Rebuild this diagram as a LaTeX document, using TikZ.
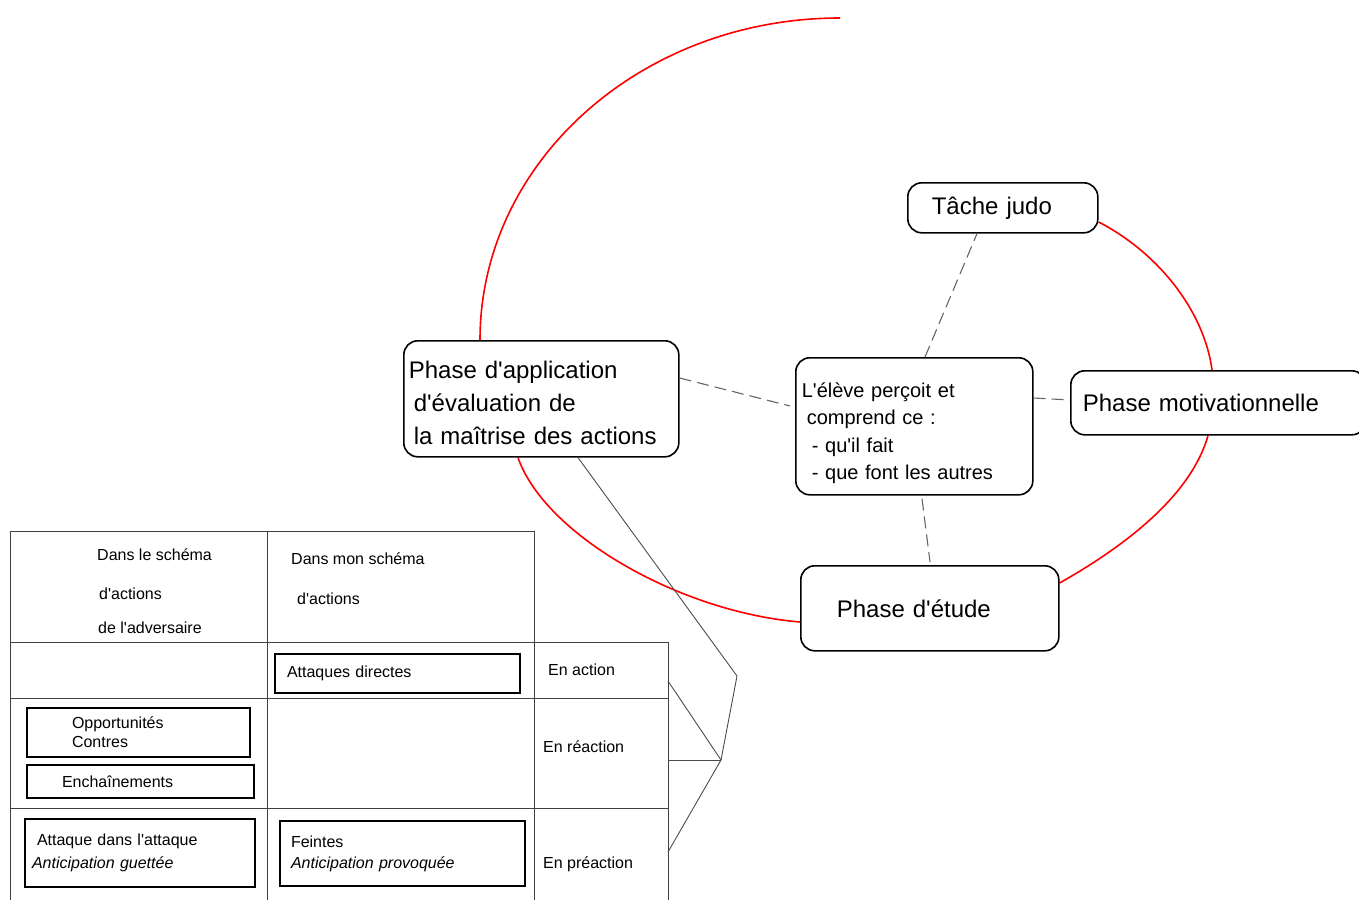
\documentclass[tikz,border=0pt]{standalone}
\usepackage{fontspec}
\setmainfont{Liberation Sans}[Ligatures=TeXOff]
\usetikzlibrary{calc}
\pgfdeclarelayer{background}
\pgfsetlayers{background,main}
\begin{document}
\begin{tikzpicture}[x=1pt,y=-1pt,
  bubble/.style={draw=black, line width=1.6pt, rounded corners=14pt, fill=white, anchor=north west, align=left, inner ysep=0pt},
  arcline/.style={draw=red, line width=1.6pt},
  dashline/.style={draw=black!60, line width=1.1pt, dash pattern=on 12pt off 6pt},
  thinline/.style={draw=black!70, line width=0.9pt},
  gridline/.style={draw=black!75, line width=1pt},
  cellbox/.style={draw=black, line width=2pt, anchor=north west, align=left, inner ysep=0pt, font=\fontsize{16}{19}\selectfont},
  celltext/.style={anchor=base west, inner sep=0pt, font=\fontsize{16}{19}\selectfont}
]
\useasboundingbox (0,0) rectangle (1359,900);

% main bubbles
\node[bubble, text width=265pt, inner xsep=5pt, minimum height=116pt, font=\fontsize{24}{33}\selectfont] (app) at (403,340)
  {\rule{0pt}{26pt}Phase d'application\\\hspace*{5pt}d'évaluation de\\\hspace*{5pt}la maîtrise des actions};
\node[bubble, text width=225pt, inner xsep=6pt, minimum height=137pt, font=\fontsize{20}{27.5}\selectfont] (centre) at (795,357)
  {\rule{0pt}{29pt}L'élève perçoit et\\\hspace*{5pt}comprend ce :\\\hspace*{10pt}- qu'il fait\\\hspace*{10pt}- que font les autres};
\node[bubble, text width=142pt, inner xsep=24pt, minimum height=50pt, font=\fontsize{24}{30}\selectfont] (tache) at (907,182) {Tâche judo};
\node[bubble, text width=271pt, inner xsep=12pt, minimum height=64pt, font=\fontsize{24}{30}\selectfont] (motiv) at (1070,370) {Phase motivationnelle};
\node[bubble, text width=186pt, inner xsep=36pt, minimum height=85pt, font=\fontsize{24}{30}\selectfont] (etude) at (800,565) {Phase d'étude};

\coordinate (arcend) at (840,18);

\begin{pgfonlayer}{background}
\draw[arcline] ([xshift=77pt]app.north west) .. controls +(0,-178) and +(-199,0) .. (arcend);
\draw[arcline] ([xshift=115pt]app.south west) .. controls (545,535) and (680,612) .. ([yshift=-57pt]etude.north west);
\draw[arcline] ([yshift=-18pt]etude.north east) .. controls (1118,550) and (1190,499) .. ([xshift=138pt]motiv.south west);
\draw[arcline] ([xshift=142pt]motiv.north west) .. controls (1204,310) and (1157,252) .. ([yshift=-40pt]tache.north east);
\end{pgfonlayer}

% dashed links
\draw[dashline] ([yshift=-38pt]app.north east) -- ([xshift=-5pt,yshift=-49pt]centre.north west);
\draw[dashline] ([xshift=130pt]centre.north west) -- ([xshift=70pt]tache.south west);
\draw[dashline] ([yshift=-41pt]centre.north east) -- ([yshift=-30pt]motiv.north west);
\draw[dashline] ([xshift=127pt,yshift=-3pt]centre.south west) -- ([xshift=130pt,yshift=3pt]etude.north west);

% table grid
\draw[gridline] (534,900) -- (534,531) -- (10,531) -- (10,900);
\draw[gridline] (267,531) -- (267,900);
\draw[gridline] (10,642) -- (668,642) -- (668,900);
\draw[gridline] (10,698) -- (668,698);
\draw[gridline] (10,808) -- (668,808);

% header texts
\node[celltext] (h1a) at (97,560) {Dans le schéma};
\node[celltext] (h1b) at (99,599) {d'actions};
\node[celltext] (h1c) at (98,633) {de l'adversaire};
\node[celltext] (h2a) at (291,564) {Dans mon schéma};
\node[celltext] (h2b) at (297,604) {d'actions};

% right column
\node[celltext] (enaction) at (548,675) {En action};
\node[celltext] (enreaction) at (543,752) {En réaction};
\node[celltext] (enpreaction) at (543,868) {En préaction};

% boxes in cells
\node[cellbox, text width=221pt, inner xsep=12pt, minimum height=39pt] (attd) at (274,653) {Attaques directes};
\node[cellbox, text width=133pt, inner xsep=45pt, minimum height=49pt] (opp) at (26,707) {Opportunités\\Contres};
\node[cellbox, text width=157pt, inner xsep=35pt, minimum height=33pt] (ench) at (26,764) {Enchaînements};
\node[cellbox, text width=216pt, inner xsep=7pt, minimum height=68pt, font=\fontsize{16}{23}\selectfont] (adla) at (24,818)
  {\hspace*{5pt}Attaque dans l'attaque\\\textit{Anticipation guettée}};
\node[cellbox, text width=223pt, inner xsep=11pt, minimum height=65pt, font=\fontsize{16}{21}\selectfont] (feint) at (279,820)
  {Feintes\\\textit{Anticipation provoquée}};

% bracket
\coordinate (knee) at (737,676);
\coordinate (hub) at (721,760);
\coordinate (ea) at (668,681);
\coordinate (er) at (668,760);
\coordinate (ep) at (668,852);
\draw[thinline] ([xshift=175pt]app.south west) -- (knee) -- (hub);
\draw[thinline] (hub) -- (ea);
\draw[thinline] (hub) -- (er);
\draw[thinline] (hub) -- (ep);
\end{tikzpicture}
\end{document}
